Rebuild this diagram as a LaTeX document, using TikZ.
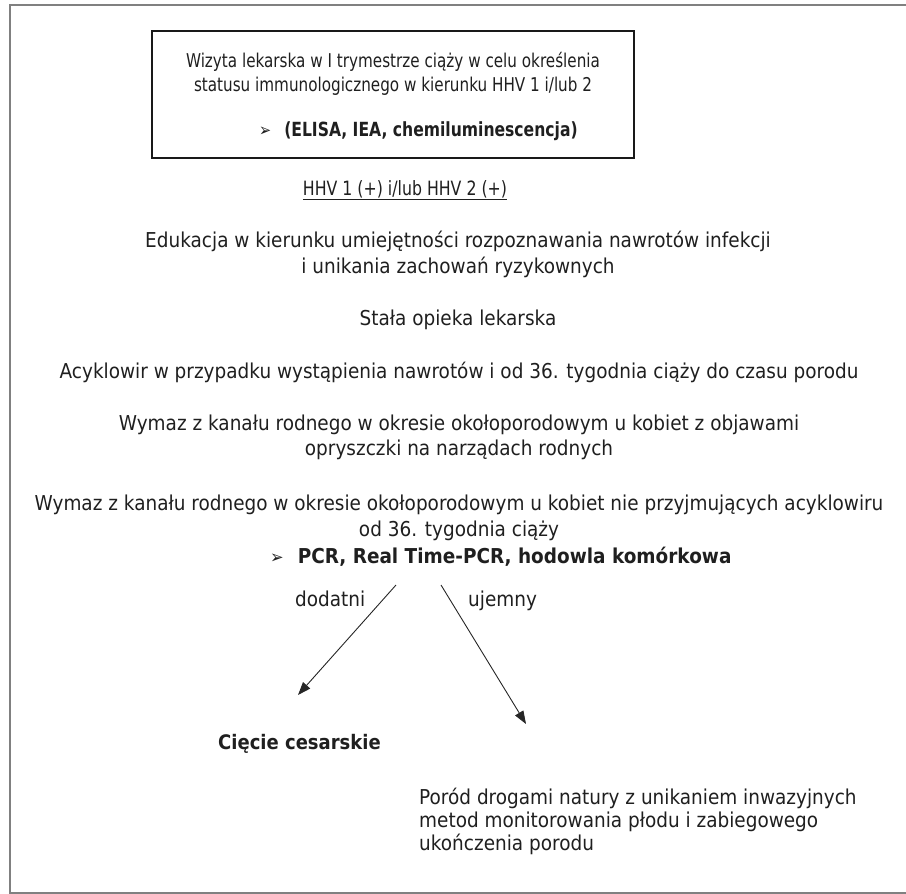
\documentclass[tikz,border=0pt]{standalone}
\usepackage{fontspec}
\setmainfont{DejaVu Sans}[FakeStretch=0.9]
\newfontfamily\condfont{DejaVu Sans}[FakeStretch=0.8]
\usetikzlibrary{arrows.meta,fit}
\newcommand{\bulsize}{\fontsize{18}{20}\selectfont}
\begin{document}
\begin{tikzpicture}[x=1pt,y=-1pt,
  txt/.style={inner sep=0pt, anchor=base, font=\fontsize{20.5}{24}\selectfont, text=black!88},
  boxtxt/.style={txt, font=\condfont\fontsize{19}{22}\selectfont},
  txtl/.style={txt, anchor=base west},
  arr/.style={line width=0.9pt, black!85, -{Triangle[length=13pt,width=9.5pt]}},
  frame/.style={draw=black!50, line width=2pt},
  boxst/.style={draw=black!90, line width=1.2pt, inner sep=0pt}]
\useasboundingbox (0,0) rectangle (906,894);
\draw[frame] (10,5) rectangle (930,893);
\node[boxst, fit={(152,31) (634,158)}] (visitbox) {};
\node[boxtxt] (l1) at (393,67) {Wizyta lekarska w I trymestrze ciąży w celu określenia};
\node[boxtxt] (l2) at (393,91) {statusu immunologicznego w kierunku HHV 1 i/lub 2};
\node[txtl, font=\condfont\fontsize{19.5}{22}\selectfont] (elisa) at (259,136) {{\bulsize ➢}\hspace{13pt}\textbf{(ELISA, IEA, chemiluminescencja)}};
\node[txt, font=\condfont\fontsize{19.7}{22}\selectfont] (hhv) at (405,195) {\underline{HHV 1 (+) i/lub HHV 2 (+)}};
\node[txt] (edu1) at (458,247) {Edukacja w kierunku umiejętności rozpoznawania nawrotów infekcji};
\node[txt] (edu2) at (458,273) {i unikania zachowań ryzykownych};
\node[txt] (opieka) at (458,325) {Stała opieka lekarska};
\node[txt] (acyk) at (459,378) {Acyklowir w przypadku wystąpienia nawrotów i od 36. tygodnia ciąży do czasu porodu};
\node[txt] (wym1a) at (459,430) {Wymaz z kanału rodnego w okresie okołoporodowym u kobiet z objawami};
\node[txt] (wym1b) at (459,455) {opryszczki na narządach rodnych};
\node[txt] (wym2a) at (459,510) {Wymaz z kanału rodnego w okresie okołoporodowym u kobiet nie przyjmujących acyklowiru};
\node[txt] (wym2b) at (459,536) {od 36. tygodnia ciąży};
\node[txtl] (pcr) at (270,563) {{\bulsize ➢}\hspace{14pt}\textbf{PCR, Real Time-PCR, hodowla komórkowa}};
\node[txtl] (dod) at (295,606) {dodatni};
\node[txtl] (uje) at (468,606) {ujemny};
\node[txtl, font=\fontsize{20}{24}\selectfont\bfseries] (ciecie) at (218,749) {Cięcie cesarskie};
\node[txtl] (porod1) at (419,804) {Poród drogami natury z unikaniem inwazyjnych};
\node[txtl] (porod2) at (419,827) {metod monitorowania płodu i zabiegowego};
\node[txtl] (porod3) at (419,850) {ukończenia porodu};
\coordinate (sL) at (396,585);
\coordinate (sR) at (441,585);
\coordinate (eL) at (298,695);
\coordinate (eR) at (526,724);
\draw[arr] (sL) -- (eL);
\draw[arr] (sR) -- (eR);
\end{tikzpicture}
\end{document}
